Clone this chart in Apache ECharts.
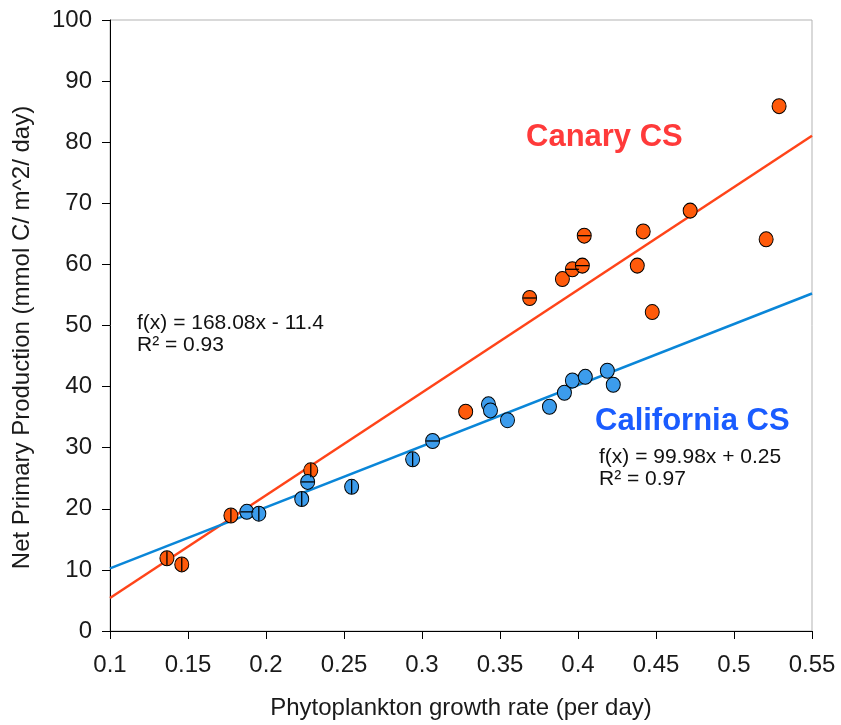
<!DOCTYPE html>
<html>
<head>
<meta charset="utf-8">
<script src="https://cdn.jsdelivr.net/npm/echarts@6/dist/echarts.min.js"></script>
<style>
  html, body { margin: 0; padding: 0; background: #fff; }
  #chart { width: 841px; height: 725px; }
</style>
</head>
<body>
<div id="chart"></div>
<script>
// Canary Current System: growth rate (per day) vs NPP
const canaryX = [0.1365, 0.146, 0.1775, 0.2287, 0.328, 0.369, 0.390, 0.3964, 0.4028, 0.404, 0.438, 0.4418, 0.4476, 0.4719, 0.5206, 0.5289];
const canaryY = [11.9, 10.9, 18.9, 26.3, 35.9, 54.5, 57.6, 59.2, 59.8, 64.7, 59.8, 65.4, 52.2, 68.8, 64.1, 85.9];
// error-bar stroke shown inside each marker: '|' vertical, '-' horizontal, '' none
const canaryBars = ['|', '|', '|', '|', '', '-', '', '-', '-', '-', '', '', '', '', '', ''];

// California Current System
const californiaX = [0.1877, 0.1954, 0.2229, 0.2267, 0.2549, 0.294, 0.3068, 0.3426, 0.3439, 0.3548, 0.3817, 0.3913, 0.3964, 0.4047, 0.4188, 0.4226];
const californiaY = [19.5, 19.2, 21.6, 24.4, 23.6, 28.1, 31.1, 37.1, 36.1, 34.5, 36.7, 39.0, 41.0, 41.6, 42.6, 40.3];
const californiaBars = ['-', '|', '|', '-', '|', '|', '-', '', '', '', '', '', '', '', '', ''];

// linear fits
const canaryFit = { slope: 168.08, intercept: -11.4, r2: 0.93 };
const californiaFit = { slope: 99.98, intercept: 0.25, r2: 0.97 };

const xTicks = { min: 0.1, max: 0.55, step: 0.05 };
const yTicks = { min: 0, max: 100, step: 10 };

const pairs = (xs, ys) => xs.map((x, i) => [x, ys[i]]);
const fitLine = f => [xTicks.min, xTicks.max].map(x => [x, f.slope * x + f.intercept]);
const bars = (xs, ys, flags, dir) => xs.map((x, i) => [x, ys[i], flags[i]]).filter(d => d[2] === dir).map(d => [d[0], d[1]]);
const fitText = f => 'f(x) = ' + f.slope.toFixed(2) + 'x ' + (f.intercept < 0 ? '- ' : '+ ') +
  Math.abs(f.intercept) + '\nR² = ' + f.r2;

const ORANGE = '#ff5a0a';
const BLUE = '#3c9cec';
const FONT = '"Liberation Sans", Arial, sans-serif';

function markerSeries(name, xs, ys, color) {
  return {
    name, type: 'scatter', data: pairs(xs, ys), z: 5,
    symbol: 'circle', symbolSize: [14, 15],
    itemStyle: { color, borderColor: '#000', borderWidth: 1, opacity: 1 },
    emphasis: { disabled: true }
  };
}
function barSeries(xs, ys, flags, dir) {
  return {
    type: 'scatter', data: bars(xs, ys, flags, dir), z: 6, silent: true,
    symbol: 'rect', symbolSize: dir === '|' ? [1.3, 14] : [13, 1.3],
    itemStyle: { color: '#000', opacity: 1 }
  };
}

const chart = echarts.init(document.getElementById('chart'), null, { renderer: 'canvas' });
chart.setOption({
  animation: false,
  backgroundColor: '#fff',
  grid: { left: 110, right: 29, top: 20, bottom: 90, show: true, borderColor: '#b3b3b3', borderWidth: 1 },
  xAxis: {
    type: 'value', min: xTicks.min, max: xTicks.max, interval: xTicks.step,
    name: 'Phytoplankton growth rate (per day)', nameLocation: 'middle', nameGap: 65,
    nameTextStyle: { fontFamily: FONT, fontSize: 24, color: '#1a1a1a' },
    axisLine: { show: true, onZero: false, lineStyle: { color: '#000', width: 1 } },
    axisTick: { show: true, inside: false, length: 8, lineStyle: { color: '#000' } },
    axisLabel: { fontFamily: FONT, fontSize: 24, color: '#1a1a1a', margin: 22,
      formatter: v => String(+v.toFixed(2)) },
    splitLine: { show: false }
  },
  yAxis: {
    type: 'value', min: yTicks.min, max: yTicks.max, interval: yTicks.step,
    name: 'Net Primary Production (mmol C/ m^2/ day)', nameLocation: 'middle', nameGap: 76,
    nameTextStyle: { fontFamily: FONT, fontSize: 24, color: '#1a1a1a', padding: [0, 24, 0, 0] },
    axisLine: { show: true, onZero: false, lineStyle: { color: '#000', width: 1 } },
    axisTick: { show: true, inside: false, length: 8, lineStyle: { color: '#000' } },
    axisLabel: { fontFamily: FONT, fontSize: 24, color: '#1a1a1a', margin: 18 },
    splitLine: { show: false }
  },
  series: [
    { type: 'line', data: fitLine(canaryFit), symbol: 'none', z: 3, silent: true,
      lineStyle: { color: '#ff4419', width: 2.5 } },
    { type: 'line', data: fitLine(californiaFit), symbol: 'none', z: 3, silent: true,
      lineStyle: { color: '#0a86d8', width: 2.5 } },
    markerSeries('Canary CS', canaryX, canaryY, ORANGE),
    markerSeries('California CS', californiaX, californiaY, BLUE),
    barSeries(canaryX, canaryY, canaryBars, '|'),
    barSeries(canaryX, canaryY, canaryBars, '-'),
    barSeries(californiaX, californiaY, californiaBars, '|'),
    barSeries(californiaX, californiaY, californiaBars, '-')
  ],
  graphic: [
    { type: 'text', left: 526, top: 122, style: { text: 'Canary CS', fill: '#ff3a3a',
      font: 'bold 31px ' + FONT } },
    { type: 'text', left: 595, top: 406, style: { text: 'California CS', fill: '#1a5cff',
      font: 'bold 31px ' + FONT } },
    { type: 'text', left: 137, top: 312, style: { text: fitText(canaryFit),
      fill: '#111', font: '21px ' + FONT, lineHeight: 22 } },
    { type: 'text', left: 599, top: 446, style: { text: fitText(californiaFit),
      fill: '#111', font: '21px ' + FONT, lineHeight: 22 } }
  ]
});
</script>
</body>
</html>
